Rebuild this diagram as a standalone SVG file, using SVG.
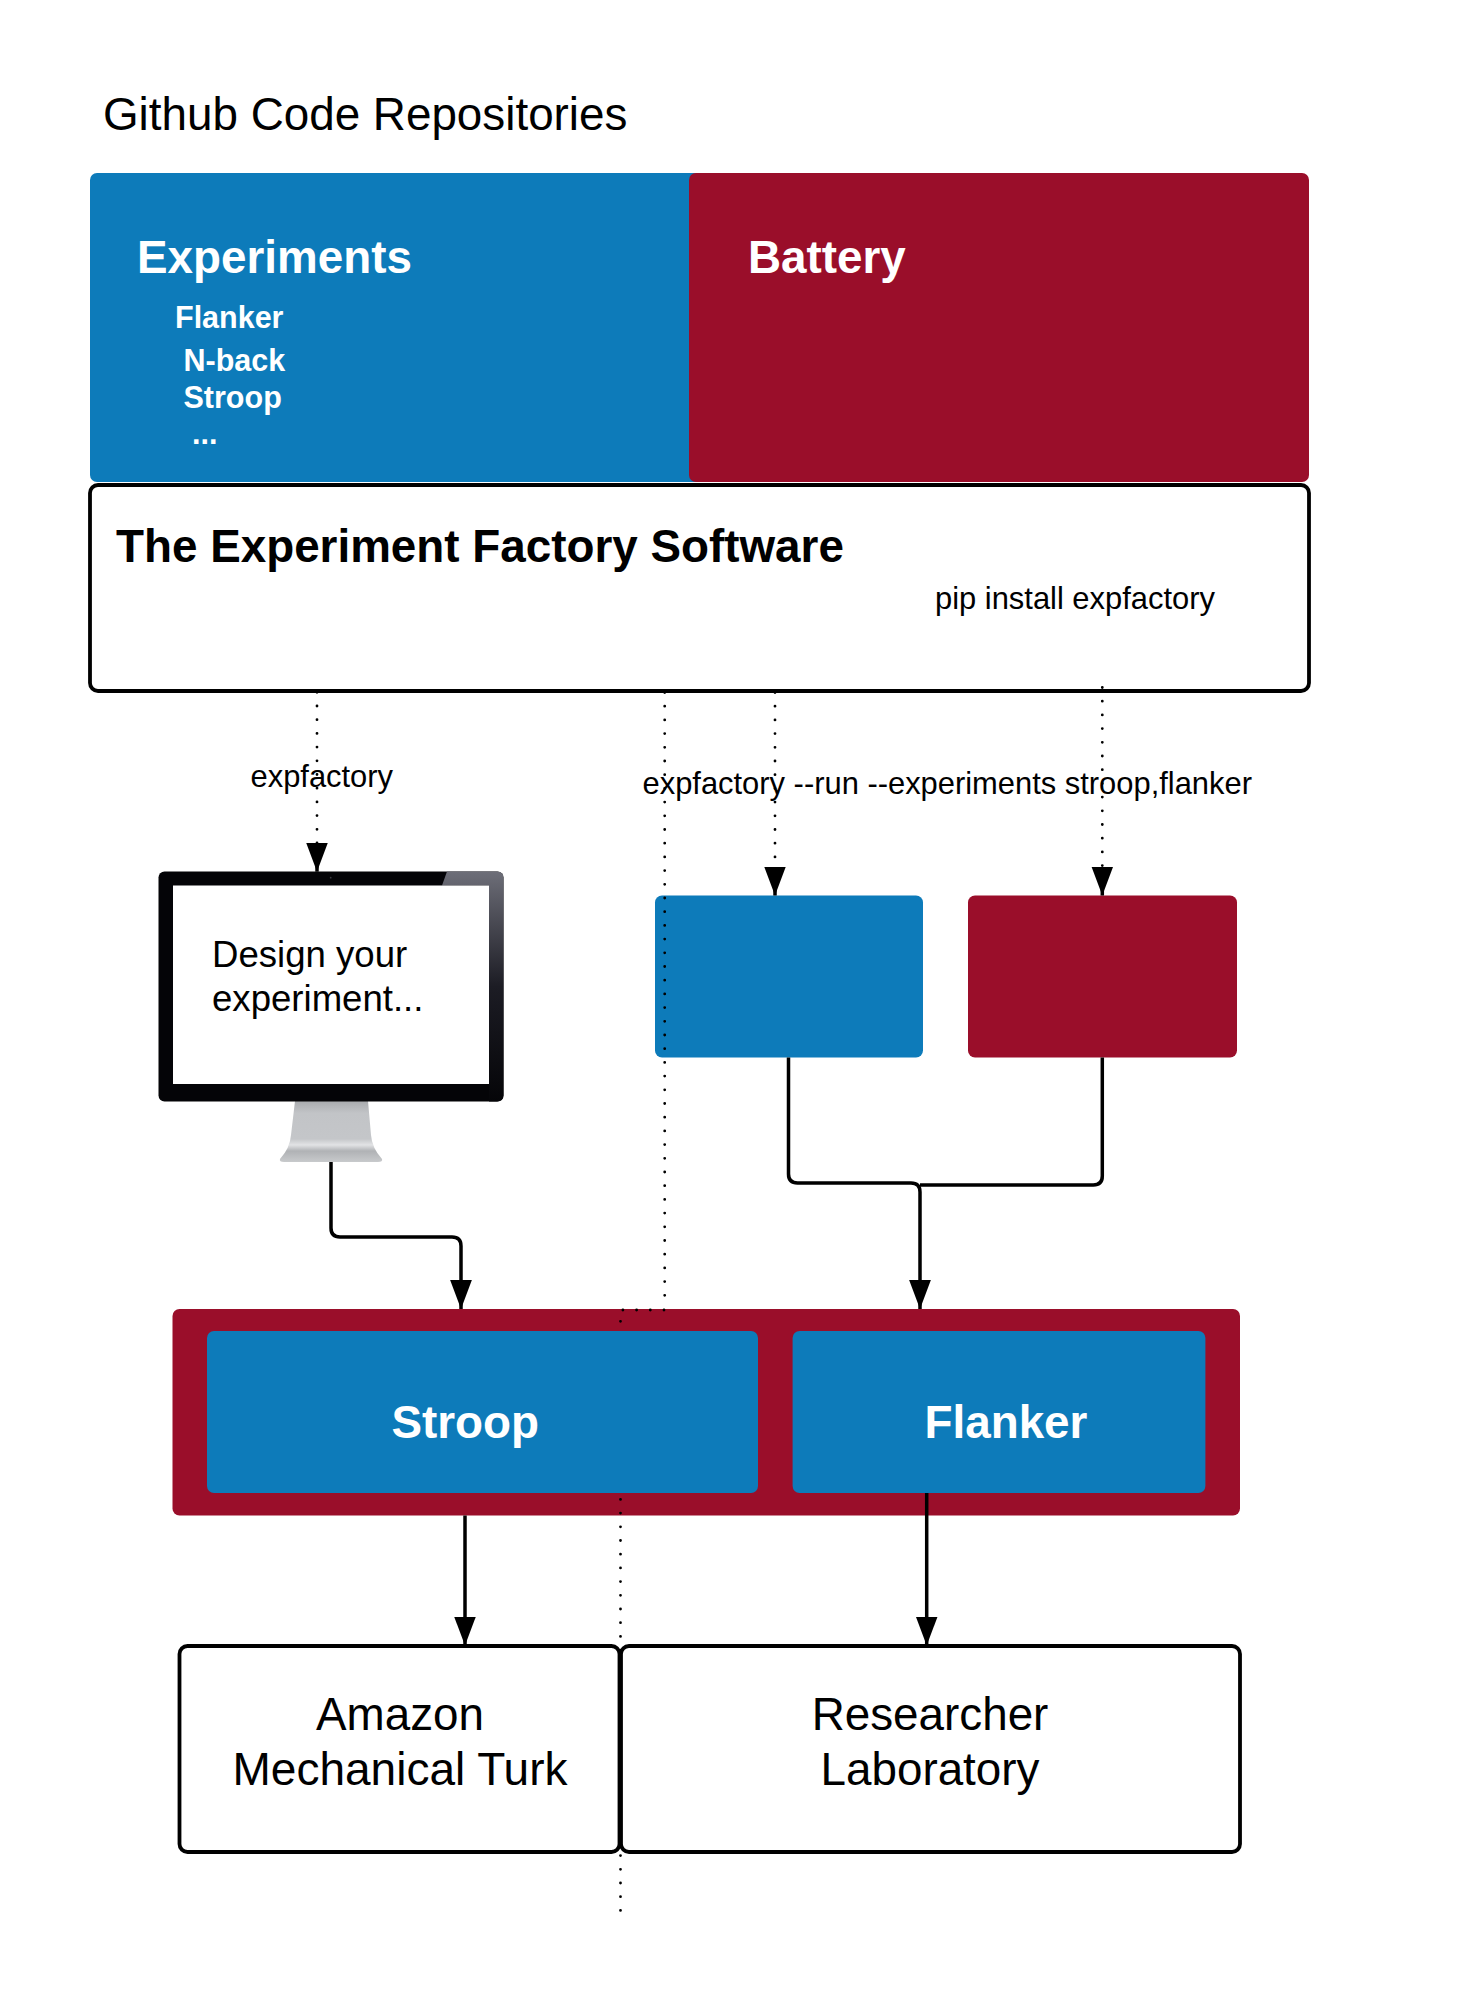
<svg xmlns="http://www.w3.org/2000/svg" width="1482" height="1999" viewBox="0 0 1482 1999">
<style>
text{font-family:"Liberation Sans",Arial,sans-serif;fill:#000}
.w{fill:#fff;font-weight:bold}
.b{font-weight:bold}
.blue{fill:#0d7bba}
.red{fill:#9a0e2a}
.box{fill:#fff;stroke:#000;stroke-width:3.8}
.solid{fill:none;stroke:#000;stroke-width:3.5;stroke-linejoin:round}
.dot{fill:none;stroke:#000;stroke-width:2.8;stroke-linecap:round;stroke-dasharray:0 13.7}
.l46{font-size:45.800px}.l30{font-size:30.500px}.l31{font-size:30.900px}.l37{font-size:36.600px}
</style>
<defs>
<marker id="arr" markerUnits="userSpaceOnUse" markerWidth="29" markerHeight="22" refX="28" refY="10.500" orient="auto" viewBox="0 0 28 21"><path d="M0 0L28 10.500L0 21Z" fill="#000"/></marker>
<linearGradient id="glare" x1="0" y1="0" x2="0" y2="1"><stop offset="0" stop-color="#6d6e78"/><stop offset=".5" stop-color="#1c1c24"/><stop offset="1" stop-color="#050508"/></linearGradient>
<linearGradient id="stand" x1="0" y1="0" x2="0" y2="1"><stop offset="0" stop-color="#a9abae"/><stop offset=".2" stop-color="#c2c4c7"/><stop offset=".62" stop-color="#c4c6c9"/><stop offset=".72" stop-color="#e2e3e5"/><stop offset=".82" stop-color="#b0b2b5"/><stop offset="1" stop-color="#c8cacc"/></linearGradient>
</defs>
<text id="title" class="l46" x="103" y="130">Github Code Repositories</text>
<g id="experiments">
<rect class="blue" x="90" y="173" width="612" height="309" rx="7"/>
<text class="w l46" x="137" y="273">Experiments</text>
<text class="w l30" x="175" y="328">Flanker</text>
<text class="w l30" x="183.500" y="371">N-back</text>
<text class="w l30" x="183.500" y="408">Stroop</text>
<text class="w l30" x="192" y="444">...</text>
</g>
<g id="battery">
<rect class="red" x="689" y="173" width="620" height="309" rx="7"/>
<text class="w l46" x="748" y="273">Battery</text>
</g>
<g id="software">
<rect class="box" x="90" y="485" width="1219" height="206" rx="8"/>
<text class="b l46" x="116" y="562">The Experiment Factory Software</text>
<text class="l31" x="935" y="609">pip install expfactory</text>
</g>
<g id="monitor">
<path d="M295 1101H368L371 1135Q372 1148 382 1159Q383 1162 378 1162H284Q279 1162 280 1159Q290 1148 291 1135Z" fill="url(#stand)"/>
<rect x="158.500" y="871.500" width="345" height="230" rx="6" fill="#040407"/>
<path d="M447 871.500H497Q503.500 871.500 503.500 878V1095Q503.500 1101.500 497 1101.500H489V885.500H442Z" fill="url(#glare)"/>
<rect x="173" y="885.500" width="316" height="198.500" fill="#fff"/>
<circle cx="330.700" cy="877.700" r="0.900" fill="#3a3a40"/>
<text class="l37" x="212" y="967">Design your</text>
<text class="l37" x="212" y="1011">experiment...</text>
</g>
<g id="blue-output"><rect class="blue" x="655" y="895.500" width="268" height="162" rx="7"/></g>
<g id="red-output"><rect class="red" x="968" y="895.500" width="269" height="162" rx="7"/></g>
<g id="container"><rect class="red" x="172.500" y="1309" width="1067.500" height="206.500" rx="7"/></g>
<g id="connectors">
<path class="dot" d="M317 692.300V845"/>
<path class="solid" d="M317 843.500V871.700" marker-end="url(#arr)"/>
<path class="dot" d="M664.700 692.500V1298"/>
<path class="dot" d="M664 1310H620.500V1917"/>
<path class="dot" d="M775 692.500V866"/>
<path class="solid" d="M775 868V895.500" marker-end="url(#arr)"/>
<path class="dot" d="M1102.300 687.500V866"/>
<path class="solid" d="M1102.300 868V895.500" marker-end="url(#arr)"/>
<path class="solid" d="M331 1162V1228Q331 1237 340 1237H452Q461 1237 461 1246V1309" marker-end="url(#arr)"/>
<path class="solid" d="M788.500 1057.500V1174Q788.500 1183 797.500 1183H911Q920 1183 920 1192V1309" marker-end="url(#arr)"/>
<path class="solid" d="M1102.300 1057.500V1176Q1102.300 1185 1093.300 1185H920"/>
<path class="solid" d="M465 1515.500V1645.600" marker-end="url(#arr)"/>
<path class="solid" d="M926.700 1493V1645.600" marker-end="url(#arr)"/>
</g>
<g id="stroop"><rect class="blue" x="207" y="1331" width="551" height="162" rx="7"/><text class="w l46" x="391.500" y="1438">Stroop</text></g>
<g id="flanker"><rect class="blue" x="792.600" y="1331" width="412.800" height="162" rx="7"/><text class="w l46" x="924.500" y="1438">Flanker</text></g>
<g id="turk"><rect class="box" x="179.500" y="1646" width="440" height="206" rx="8"/><text class="l46" text-anchor="middle" x="400" y="1730">Amazon</text><text style="font-size:46px" text-anchor="middle" x="400" y="1785">Mechanical Turk</text></g>
<g id="lab"><rect class="box" x="621" y="1646" width="619" height="206" rx="8"/><text class="l46" text-anchor="middle" x="930" y="1730">Researcher</text><text class="l46" text-anchor="middle" x="930" y="1785">Laboratory</text></g>
<text id="label1" class="l31" x="250.500" y="787">expfactory</text>
<text id="label2" class="l31" x="642.500" y="794">expfactory --run --experiments stroop,flanker</text>
</svg>
